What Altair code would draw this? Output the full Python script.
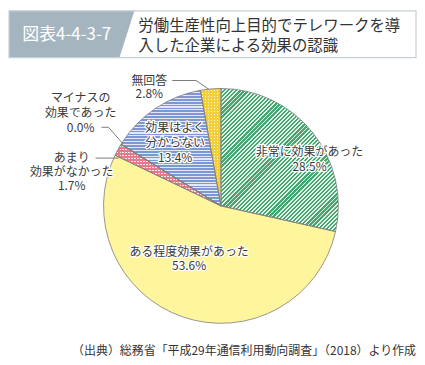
import math
import altair as alt
import pandas as pd

# ---- data ----
CATEGORIES = ["非常に効果があった", "ある程度効果があった", "あまり効果がなかった",
              "マイナスの効果であった", "効果はよく分からない", "無回答"]
VALUES = [28.5, 53.6, 1.7, 0.0, 13.4, 2.8]
LABEL_NAMES = ["非常に効果があった", "ある程度効果があった", "あまり\n効果がなかった",
               "マイナスの\n効果であった", "効果はよく\n分からない", "無回答"]
TITLE_TAG = "図表4-4-3-7"
TITLE_LINES = ["労働生産性向上目的でテレワークを導", "入した企業による効果の認識"]
SOURCE = "（出典）総務省「平成29年通信利用動向調査」（2018）より作成"

# ---- layout (chart pixel coords) ----
W, H = 409, 349
CX, CY, R = 213, 198, 118
LABEL_POS = [(302, 144), (181, 244), (63, 150), (72, 89.5), (167, 119.5), (141, 72.5)]
LABEL_LH = [15, 14, 14, 15, 15, 13]
LEADERS = [  # x, y, x2, y2
    (164, 72, 188, 72), (188, 72, 201, 81),
    (93, 119, 100, 119), (100, 119, 114, 135),
    (87, 150, 110, 150),
]

df = pd.DataFrame({"cat": CATEGORIES, "value": VALUES, "order": list(range(len(VALUES)))})
total = sum(VALUES)

# angles
starts, ends = [], []
acc = 0.0
for v in VALUES:
    starts.append(acc / total * 360)
    acc += v
    ends.append(acc / total * 360)


def arc_bbox(a0, a1):
    pts = [(CX, CY)]
    angs = [a0, a1] + [k * 90 for k in range(5) if a0 < k * 90 < a1]
    for a in angs:
        r = math.radians(a)
        pts.append((CX + R * math.sin(r), CY - R * math.cos(r)))
    xs = [p[0] for p in pts]
    ys = [p[1] for p in pts]
    return max(xs) - min(xs), max(ys) - min(ys)


def stops(c1, c2, period_t, frac):
    out = []
    t = 0.0
    while t < 1.0 - 1e-9:
        tm = min(t + period_t * frac, 1.0)
        te = min(t + period_t, 1.0)
        out += [{"offset": round(t, 5), "color": c1}, {"offset": round(tm, 5), "color": c1},
                {"offset": round(tm, 5), "color": c2}, {"offset": round(te, 5), "color": c2}]
        t += period_t
    return out


def diag_grad(c1, c2, bw, bh, p, frac):
    base = (1.0, bh / bw)
    tmax = (1 + bh / bw) / (1 + (bh / bw) ** 2)
    k = tmax
    dt = p * math.sqrt(2) * bw / (bw ** 2 + bh ** 2) / k
    return {"gradient": "linear", "x1": 0, "y1": 0, "x2": base[0] * k, "y2": base[1] * k,
            "stops": stops(c1, c2, dt, frac)}


def hgrad(c1, c2, bh, p, frac):
    return {"gradient": "linear", "x1": 0, "y1": 0, "x2": 0, "y2": 1,
            "stops": stops(c1, c2, p / bh, frac)}


def vgrad(c1, c2, bw, p, frac):
    return {"gradient": "linear", "x1": 0, "y1": 0, "x2": 1, "y2": 0,
            "stops": stops(c1, c2, p / bw, frac)}


fills = []
# 0 green diagonal stripes
bw, bh = arc_bbox(starts[0], ends[0])
fills.append([(0, diag_grad("#46a870", "#e4f3e9", bw, bh, 2.9, 0.55))])
# 1 yellow solid
fills.append([(1, "#fff59d")])
# 2 pink check
bw, bh = arc_bbox(starts[2], ends[2])
fills.append([(2, vgrad("#e57a8e", "#fbe6ea", bw, 3.0, 0.5)),
              (2, hgrad("#e57a8e", "transparent", bh, 3.0, 0.5))])
# 4 blue horizontal stripes
bw, bh = arc_bbox(starts[4], ends[4])
fills.append([(4, hgrad("#7d97d4", "#e2e8f6", bh, 2.9, 0.62))])
# 5 yellow check
bw, bh = arc_bbox(starts[5], ends[5])
fills.append([(5, vgrad("#f4cf3c", "#fdf7dc", bw, 3.0, 0.5)),
              (5, hgrad("#f4cf3c", "transparent", bh, 3.0, 0.5))])

base = alt.Chart(df).encode(
    theta=alt.Theta("value:Q", stack=True),
    order=alt.Order("order:Q", sort="ascending"),
    x=alt.value(CX), y=alt.value(CY),
)

layers = []
for group in fills:
    for idx, fill in group:
        layers.append(
            base.mark_arc(radius=R, fill=fill, strokeWidth=0).encode(
                opacity=alt.when(alt.datum.cat == CATEGORIES[idx]).then(alt.value(1)).otherwise(alt.value(0))
            )
        )
# outlines
layers.append(base.mark_arc(radius=R, fillOpacity=0, stroke="#7d7d7d", strokeWidth=0.8))

# leader lines
lead_df = pd.DataFrame(LEADERS, columns=["x", "y", "x2", "y2"])
layers.append(
    alt.Chart(lead_df).mark_rule(color="#6e6e6e", strokeWidth=0.9).encode(
        x=alt.X("x:Q", scale=None), y=alt.Y("y:Q", scale=None),
        x2="x2:Q", y2="y2:Q",
    )
)

# labels (one text mark per line)
rows = []
for name, v, (lx, ly), lh in zip(LABEL_NAMES, VALUES, LABEL_POS, LABEL_LH):
    lines = name.split("\n") + [f"{v:.1f}%"]
    for i, ln in enumerate(lines):
        rows.append({"text": ln, "lx": lx, "ly": ly + i * lh})
lab_df = pd.DataFrame(rows)
font = "Noto Sans CJK JP"
lab_enc = dict(x=alt.X("lx:Q", scale=None), y=alt.Y("ly:Q", scale=None), text="text:N")
layers.append(alt.Chart(lab_df).mark_text(font=font, fontSize=12, align="center", baseline="middle",
                                          stroke="white", strokeWidth=2.5, strokeJoin="round",
                                          fill="white").encode(**lab_enc))
layers.append(alt.Chart(lab_df).mark_text(font=font, fontSize=12, align="center", baseline="middle",
                                          fill="#3a3a3a").encode(**lab_enc))

one = pd.DataFrame({"a": [0]})
# title box
path = "M -1 -0.373 L 1 -0.373 L 0.762 0.373 L -1 0.373 Z"
layers.append(alt.Chart(one).mark_point(shape=path, size=126 * 126, filled=True, fill="#a5b5c0",
                                        opacity=1, strokeWidth=0).encode(x=alt.value(63), y=alt.value(25.5)))
layers.append(alt.Chart(one).mark_rect(fillOpacity=0, stroke="#c5d0d6", strokeWidth=1.2).encode(
    x=alt.value(0), x2=alt.value(409), y=alt.value(2), y2=alt.value(49)))
layers.append(alt.Chart(one).mark_text(text=TITLE_TAG, font=font, fontSize=17, fill="white",
                                       align="center", baseline="middle").encode(
    x=alt.value(58), y=alt.value(26)))
layers.append(alt.Chart(one).mark_text(text=TITLE_LINES[0], font=font, fontSize=15.5, fill="#333333",
                                       align="left", baseline="middle").encode(
    x=alt.value(130), y=alt.value(17)))
layers.append(alt.Chart(one).mark_text(text=TITLE_LINES[1], font=font, fontSize=15.5, fill="#333333",
                                       align="left", baseline="middle").encode(
    x=alt.value(130), y=alt.value(37)))
layers.append(alt.Chart(one).mark_text(text=SOURCE, font=font, fontSize=12, fill="#333333",
                                       align="right", baseline="middle").encode(
    x=alt.value(409), y=alt.value(344)))

chart = alt.layer(*layers).properties(width=W, height=H, padding=0).configure_view(strokeWidth=0)
chart.save("out.html", embed_options={"renderer": "svg", "actions": False})
